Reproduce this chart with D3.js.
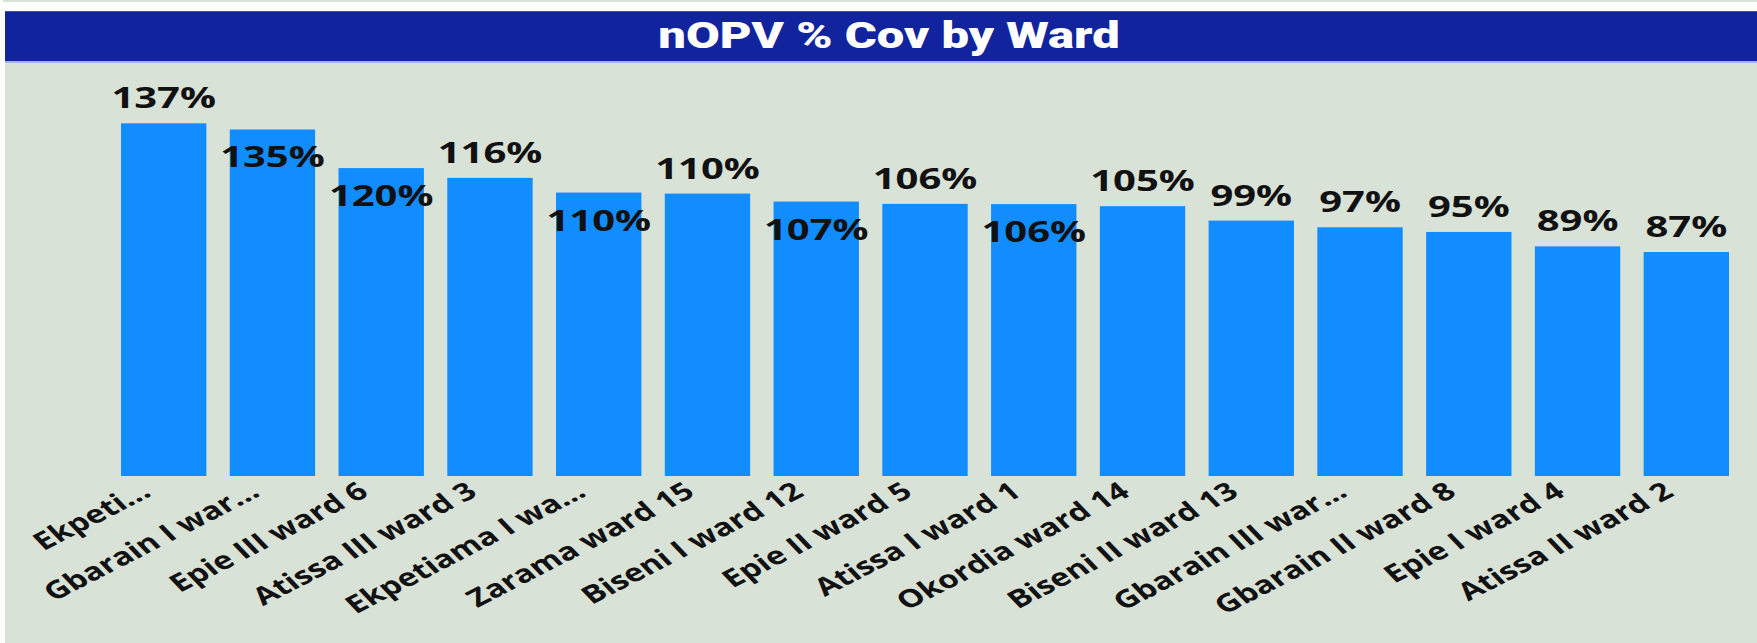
<!DOCTYPE html>
<html>
<head>
<meta charset="utf-8">
<script src="https://cdn.jsdelivr.net/npm/d3@7"></script>
<style>
  html, body { margin: 0; padding: 0; background: #ffffff; }
  svg { display: block; }
</style>
</head>
<body>
<div id="chart"></div>
<script>
// ---- data ----
const title = "nOPV % Cov by Ward";
const wards = [
  "Ekpeti...", "Gbarain I war...", "Epie III ward 6", "Atissa III ward 3",
  "Ekpetiama I wa...", "Zarama ward 15", "Biseni I ward 12", "Epie II ward 5",
  "Atissa I ward 1", "Okordia ward 14", "Biseni II ward 13", "Gbarain III war...",
  "Gbarain II ward 8", "Epie I ward 4", "Atissa II ward 2"
];
const coverage = [137.0, 134.6, 119.6, 115.8, 110.1, 109.7, 106.6, 105.7, 105.6, 104.8, 99.2, 96.6, 94.8, 89.2, 87.0];

// ---- layout ----
const W = 1757, H = 643;
const SX = 1.36; // horizontal stretch of the original screenshot
const baseY = 476;

const svg = d3.select("#chart").append("svg")
  .attr("width", W).attr("height", H);

// background panel
svg.append("rect").attr("x", 0).attr("y", 0).attr("width", W).attr("height", H).attr("fill", "#ffffff");
svg.append("rect").attr("x", 3).attr("y", 0).attr("width", W - 3).attr("height", 2).attr("fill", "#d9e2d6");
svg.append("rect").attr("x", 5).attr("y", 62).attr("width", W - 5).attr("height", H - 62).attr("fill", "#d9e2d6");

// title band
svg.append("rect").attr("x", 5).attr("y", 11).attr("width", W - 5).attr("height", 51).attr("fill", "#12239e");
svg.append("rect").attr("x", 5).attr("y", 11).attr("width", W - 5).attr("height", 1).attr("fill", "#4a5590");
svg.append("rect").attr("x", 5).attr("y", 61).attr("width", W - 5).attr("height", 2).attr("fill", "#9fb1e6");

svg.append("text")
  .attr("transform", `translate(889,48) scale(${SX},1)`)
  .attr("text-anchor", "middle")
  .attr("font-family", "Roboto, 'Open Sans', sans-serif")
  .attr("font-weight", 900)
  .attr("font-size", 36)
  .attr("fill", "#ffffff")
  .text(title);

// scales
const x = d3.scaleBand().domain(wards).range([121, 1729]).paddingInner(0.215).paddingOuter(0);
const y = d3.scaleLinear().domain([0, 140]).range([baseY, baseY - 140 * 2.5745]);

// bars
svg.append("g").selectAll("rect").data(wards).join("rect")
  .attr("x", d => x(d))
  .attr("y", (d, i) => y(coverage[i]))
  .attr("width", x.bandwidth())
  .attr("height", (d, i) => y(0) - y(coverage[i]))
  .attr("fill", "#118dff");

// x axis
const axis = svg.append("g").attr("transform", `translate(0,${baseY})`)
  .call(d3.axisBottom(x).tickSize(0).tickPadding(0));
axis.select(".domain").remove();
axis.selectAll("text")
  .attr("x", 0).attr("y", 0).attr("dy", 0)
  .attr("text-anchor", "end")
  .attr("transform", `translate(-11,19) scale(${SX},1) rotate(-35)`)
  .attr("font-family", "'Open Sans', sans-serif")
  .attr("font-weight", 700)
  .attr("font-size", 24.5)
  .attr("fill", "#111111");

// value labels with overlap avoidance (outside unless colliding with previous label)
const fmt = v => Math.round(v) + "%";
const lg = svg.append("g");
let prev = null;
const LH = 24, MARGIN = 8;
wards.forEach((w, i) => {
  const cx = x(w) + x.bandwidth() / 2;
  const t = lg.append("text")
    .attr("text-anchor", "middle")
    .attr("font-family", "'Open Sans', sans-serif")
    .attr("font-weight", 700)
    .attr("font-size", 29.4)
    .attr("fill", "#111111")
    .text(fmt(coverage[i]));
  const wdt = t.node().getComputedTextLength() * SX;
  const top = y(coverage[i]);
  let by = top - 15;
  if (prev) {
    const hOverlap = (cx - wdt / 2) < (prev.x1 + MARGIN);
    const vOverlap = Math.abs(by - prev.by) < LH;
    if (hOverlap && vOverlap) by = top + 38;
  }
  t.attr("transform", `translate(${cx},${by}) scale(${SX},1)`);
  prev = { x1: cx + wdt / 2, by: by };
});
</script>
</body>
</html>
